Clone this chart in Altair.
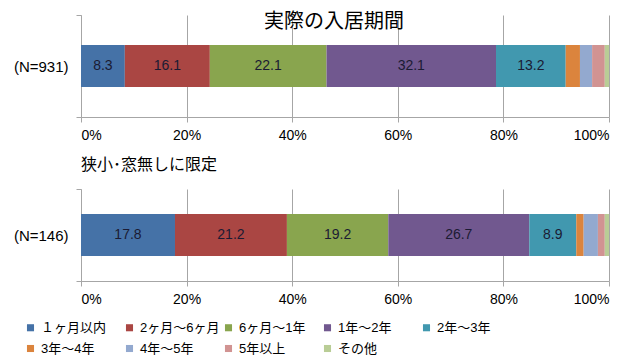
import altair as alt
import pandas as pd

categories = ["１ヶ月以内", "2ヶ月～6ヶ月", "6ヶ月～1年", "1年～2年", "2年～3年",
              "3年～4年", "4年～5年", "5年以上", "その他"]
colors = ["#4572A7", "#AA4643", "#89A54E", "#71588F", "#4198AF",
          "#DB843D", "#93A9CF", "#D19392", "#B9CD96"]
all_values = [8.3, 16.1, 22.1, 32.1, 13.2, 2.7, 2.3, 2.4, 0.8]
narrow_values = [17.8, 21.2, 19.2, 26.7, 8.9, 1.4, 2.7, 1.3, 0.8]
group_all = "(N=931)"
group_narrow = "(N=146)"
x_ticks = [0, 20, 40, 60, 80, 100]
title_all = "実際の入居期間"
title_narrow = "狭小･窓無しに限定"

FONT = "Liberation Sans, Noto Sans CJK JP, sans-serif"
JFONT = "Noto Sans CJK JP, sans-serif"
GRAY = "#a6a6a6"

legend = alt.Legend(
    title=None, orient="none", legendX=-57, legendY=306, columns=5,
    direction="horizontal",
    symbolType="square", symbolSize=50, symbolStrokeWidth=0,
    labelFontSize=13, labelFont=FONT, labelColor="#000000",
    gridAlign="all", columnPadding=2, rowPadding=7, labelLimit=200,
)


def panel(values, group, title, h):
    df = pd.DataFrame({
        "cat": categories,
        "value": values,
        "order": list(range(len(categories))),
        "group": group,
    })
    base = alt.Chart(df).transform_stack(
        stack="value", groupby=["group"], as_=["x0", "x1"],
        sort=[alt.SortField("order")]
    ).transform_calculate(mid="(datum.x0 + datum.x1) / 2")

    xenc = alt.X(
        "x0:Q",
        scale=alt.Scale(domain=[0, 100], nice=False),
        axis=alt.Axis(
            values=x_ticks, labelExpr="datum.value + '%'", title=None,
            grid=True, gridColor=GRAY, domainColor=GRAY, tickColor=GRAY,
            tickSize=5, labelFontSize=14, labelFont=FONT, labelColor="#000000",
            labelPadding=6,
        ),
    )
    yenc = alt.Y(
        "group:N",
        scale=alt.Scale(paddingInner=0, paddingOuter=0),
        axis=alt.Axis(
            title=None, domainColor=GRAY, tickColor=GRAY, tickSize=5,
            tickBand="extent", labelFontSize=15, labelFont=FONT,
            labelColor="#000000", labelPadding=8,
        ),
    )
    bars = base.mark_bar(size=42).encode(
        x=xenc,
        x2="x1:Q",
        y=yenc,
        color=alt.Color("cat:N", scale=alt.Scale(domain=categories, range=colors),
                        legend=legend),
        order=alt.Order("order:Q"),
    )
    text = base.transform_filter("datum.value >= 5").mark_text(
        fontSize=14, font=FONT, color="#1b1b33"
    ).encode(
        x="mid:Q",
        y="group:N",
        text=alt.Text("value:Q", format=".1f"),
    )
    return alt.layer(bars, text).properties(width=528, height=h, title=title)


top = panel(all_values, group_all, alt.TitleParams(
    title_all, fontSize=20, font=JFONT, fontWeight="normal", color="#000000",
    anchor="middle", offset=-24, dx=-11), 102)
bottom = panel(narrow_values, group_narrow, alt.TitleParams(
    title_narrow, fontSize=16, font=JFONT, fontWeight="normal", color="#000000",
    anchor="start", frame="group", offset=9), 92)

chart = alt.vconcat(top, bottom, spacing=15).properties(
    padding={"left": 5, "top": 0, "right": 5, "bottom": 5}
).configure_view(stroke=None)

chart.save("out.html", embed_options={"renderer": "svg", "actions": False})
